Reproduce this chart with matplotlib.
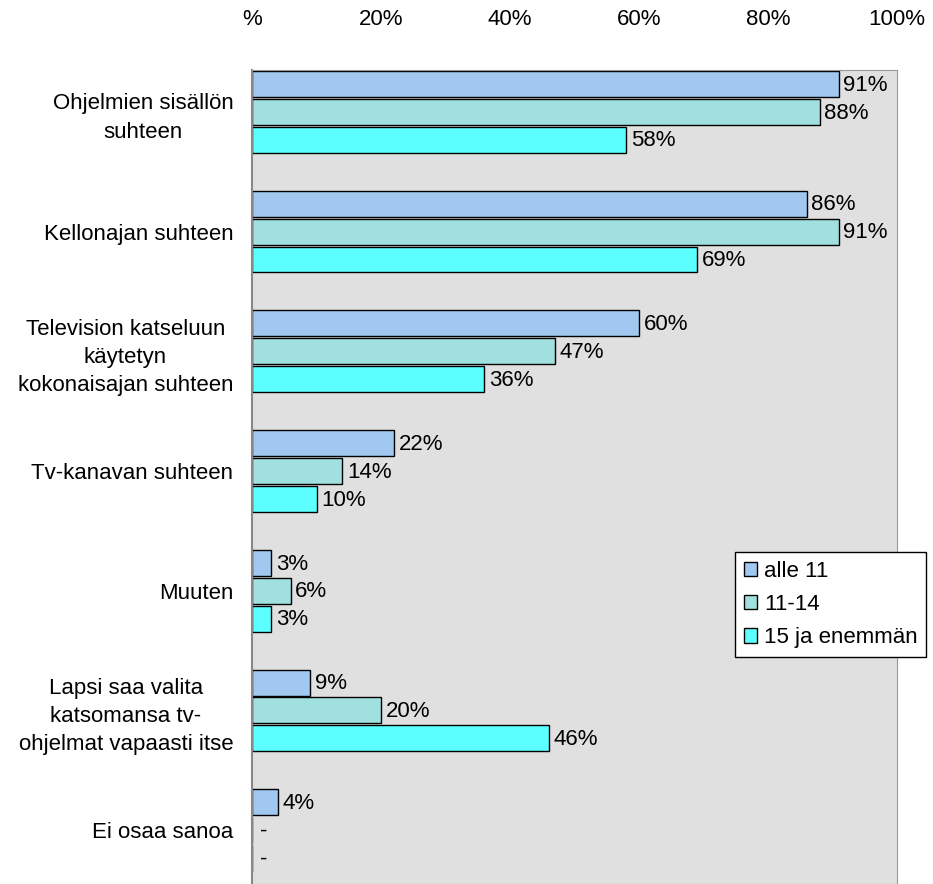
import matplotlib
matplotlib.use("Agg")
import matplotlib.pyplot as plt
import numpy as np

categories = [
    "Ohjelmien sisällön\nsuhteen",
    "Kellonajan suhteen",
    "Television katseluun\nkäytetyn\nkokonaisajan suhteen",
    "Tv-kanavan suhteen",
    "Muuten",
    "Lapsi saa valita\nkatsomansa tv-\nohjelmat vapaasti itse",
    "Ei osaa sanoa",
]
series_names = ["alle 11", "11-14", "15 ja enemmän"]
alle_11 = [91, 86, 60, 22, 3, 9, 4]
v11_14 = [88, 91, 47, 14, 6, 20, None]
v15_plus = [58, 69, 36, 10, 3, 46, None]
tick_values = [0, 20, 40, 60, 80, 100]
tick_labels = ["%", "20%", "40%", "60%", "80%", "100%"]

colors = ["#A0C8F0", "#A0E0DE", "#5CFFFF"]
FS = 16

plt.rcParams["font.family"] = ["Liberation Sans", "DejaVu Sans"]
fig = plt.figure(figsize=(9.33, 8.84), dpi=100)
ax = fig.add_axes([252 / 933, 0.0, (897 - 252) / 933, (884 - 70) / 884])
ax.set_facecolor("#E0E0E0")

n = len(categories)
y = np.arange(n)
bar_h = 0.217
step = 0.233
all_series = [alle_11, v11_14, v15_plus]
for i, (vals, name, col) in enumerate(zip(all_series, series_names, colors)):
    pos = y + (i - 1) * step
    widths = [v if v is not None else 0 for v in vals]
    ax.barh(pos, widths, height=bar_h, color=col, edgecolor="black",
            linewidth=1.0, label=name)
    for p, v in zip(pos, vals):
        if v is None:
            ax.text(1.2, p + 0.01, "-", va="center", ha="left", fontsize=FS)
        else:
            ax.text(v + 0.7, p + 0.01, f"{v}%", va="center", ha="left", fontsize=FS)

ax.set_xlim(0, 100)
ax.set_ylim(n - 1 + 0.45, -0.35)
ax.set_yticks(y)
ax.set_yticklabels(categories, fontsize=FS, ha="right", multialignment="center",
                   linespacing=1.45)
ax.tick_params(axis="y", length=0, pad=13.5)
ax.xaxis.tick_top()
ax.set_xticks(tick_values)
ax.set_xticklabels(tick_labels, fontsize=FS)
ax.tick_params(axis="x", length=0, pad=29)
for s in ["top", "right", "bottom"]:
    ax.spines[s].set_color("#999999")
ax.spines["left"].set_color("#888888")
ax.spines["left"].set_linewidth(1.5)

leg = ax.legend(loc="upper left", bbox_to_anchor=(735 / 933, 1 - 552 / 884),
                bbox_transform=fig.transFigure, fontsize=FS, frameon=True,
                fancybox=False, edgecolor="black", handlelength=0.6,
                handleheight=0.6, handletextpad=0.3, labelspacing=0.55,
                borderpad=0.4, borderaxespad=0)
leg.get_frame().set_linewidth(1.0)
leg.get_frame().set_facecolor("white")
leg.get_frame().set_alpha(1.0)

fig.savefig("out.png", dpi=100)
